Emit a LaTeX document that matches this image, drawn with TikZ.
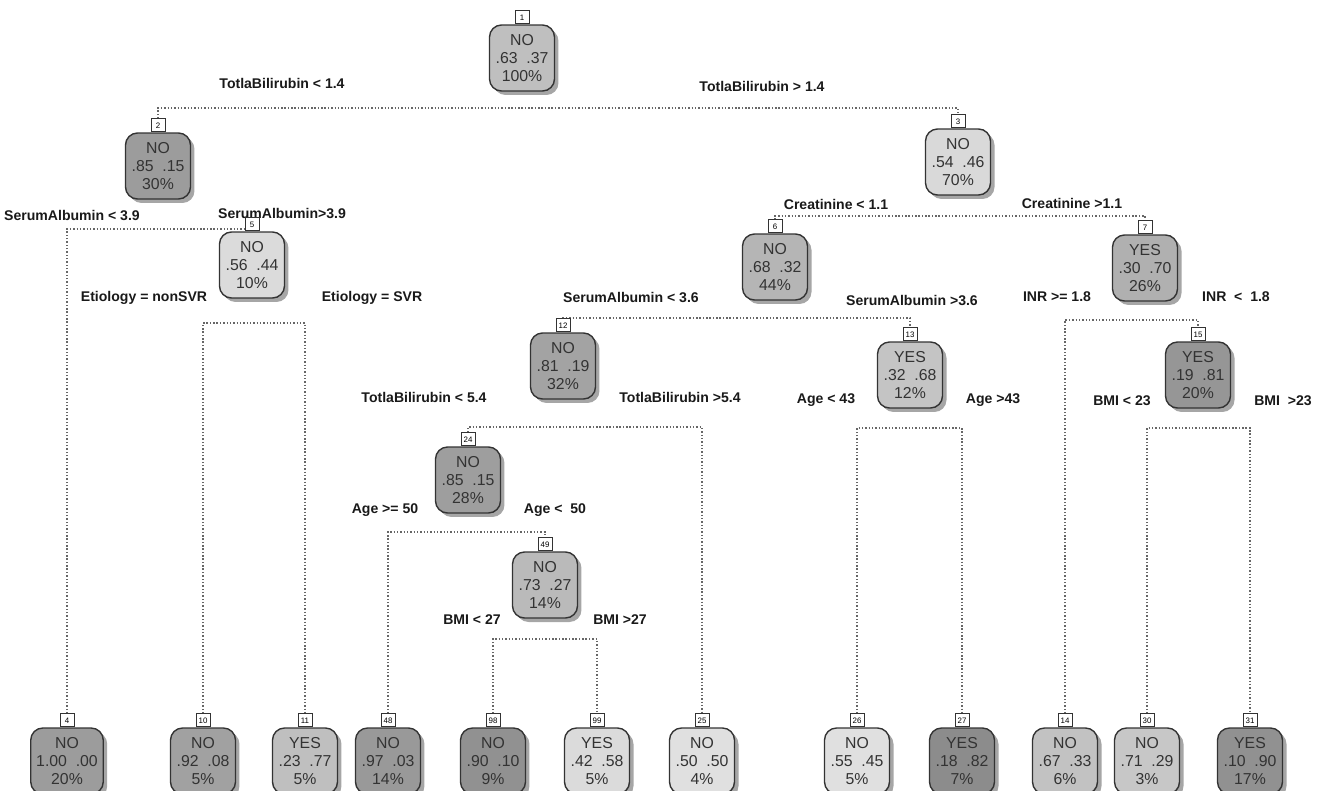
\documentclass[tikz,border=0pt]{standalone}
\usepackage{fontspec}
\setmainfont{Liberation Sans}
\usetikzlibrary{backgrounds, shadows}

\begin{document}
\begin{tikzpicture}[x=0.02cm, y=-0.02cm,
        nd/.style={draw=black!80, line width=0.8pt, rounded corners=0.24cm,
                   minimum width=1.3cm, minimum height=1.32cm, inner sep=1pt,
                   align=center, text=black!80,
                   font=\fontsize{9}{10.4}\selectfont,
                   drop shadow={shadow xshift=0.08cm, shadow yshift=-0.08cm,
                                fill=black, opacity=0.35}},
        tab/.style={draw=black!80, fill=white, line width=0.5pt,
                    minimum width=0.28cm, minimum height=0.26cm, inner sep=0pt,
                    anchor=south, font=\fontsize{4.5}{4.5}\selectfont},
        branch/.style={draw=black!60, line width=0.7pt,
                       dash pattern=on 0.8pt off 1.1pt},
        lbl/.style={font=\bfseries\fontsize{8}{9.5}\selectfont, text=black!90}
    ]
    \useasboundingbox (0,0) rectangle (1322,791);

    % --- root and first split ---
    \node[nd, fill=black!25] (n1) at (522, 58) {NO\\.63~~.37\\100\%};
    \node[nd, fill=black!39] (n2) at (158, 166) {NO\\.85~~.15\\30\%};
    \node[nd, fill=black!15] (n3) at (958, 162) {NO\\.54~~.46\\70\%};
    \node[lbl] (l1a) at (282, 83) {TotlaBilirubin < 1.4};
    \node[lbl] (l1b) at (762, 86) {TotlaBilirubin > 1.4};

    % --- left subtree ---
    \node[nd, fill=black!14] (n5) at (252, 265) {NO\\.56~~.44\\10\%};
    \node[lbl] (l2a) at (72, 215) {SerumAlbumin < 3.9};
    \node[lbl] (l2b) at (282, 213) {SerumAlbumin>3.9};
    \node[lbl] (l5a) at (144, 298) {Etiology = nonSVR};
    \node[lbl] (l5b) at (372, 298) {Etiology = SVR};

    % --- right subtree ---
    \node[nd, fill=black!29] (n6) at (775, 267) {NO\\.68~~.32\\44\%};
    \node[nd, fill=black!31] (n7) at (1145, 268) {YES\\.30~~.70\\26\%};
    \node[lbl] (l3a) at (836, 204) {Creatinine < 1.1};
    \node[lbl] (l3b) at (1072, 203) {Creatinine >1.1};

    \node[nd, fill=black!36] (n12) at (563, 366) {NO\\.81~~.19\\32\%};
    \node[nd, fill=black!23] (n13) at (910, 375) {YES\\.32~~.68\\12\%};
    \node[lbl] (l6a) at (631, 297) {SerumAlbumin < 3.6};
    \node[lbl] (l6b) at (912, 300) {SerumAlbumin >3.6};

    \node[nd, fill=black!41] (n15) at (1198, 375) {YES\\.19~~.81\\20\%};
    \node[lbl] (l7a) at (1057, 297) {INR >= 1.8};
    \node[lbl] (l7b) at (1236, 297) {INR ~<~ 1.8};

    \node[nd, fill=black!38] (n24) at (468, 480) {NO\\.85~~.15\\28\%};
    \node[lbl] (l12a) at (424, 397) {TotlaBilirubin < 5.4};
    \node[lbl] (l12b) at (680, 397) {TotlaBilirubin >5.4};

    \node[nd, fill=black!27] (n49) at (545, 585) {NO\\.73~~.27\\14\%};
    \node[lbl] (l24a) at (385, 510) {Age >= 50};
    \node[lbl] (l24b) at (555, 510) {Age <~~50};
    \node[lbl] (l49a) at (472, 620) {BMI < 27};
    \node[lbl] (l49b) at (620, 620) {BMI >27};

    \node[lbl] (l13a) at (826, 400) {Age < 43};
    \node[lbl] (l13b) at (993, 400) {Age >43};
    \node[lbl] (l15a) at (1122, 401) {BMI < 23};
    \node[lbl] (l15b) at (1283, 401) {BMI ~>23};

    % --- leaves ---
    \node[nd, fill=black!39, minimum width=1.45cm] (n4) at (67, 761) {NO\\1.00~~.00\\20\%};
    \node[nd, fill=black!37] (n10) at (203, 761) {NO\\.92~~.08\\5\%};
    \node[nd, fill=black!25] (n11) at (305, 761) {YES\\.23~~.77\\5\%};
    \node[nd, fill=black!40] (n48) at (388, 761) {NO\\.97~~.03\\14\%};
    \node[nd, fill=black!43] (n98) at (493, 761) {NO\\.90~~.10\\9\%};
    \node[nd, fill=black!14] (n99) at (597, 761) {YES\\.42~~.58\\5\%};
    \node[nd, fill=black!12] (n25) at (702, 761) {NO\\.50~~.50\\4\%};
    \node[nd, fill=black!12] (n26) at (857, 761) {NO\\.55~~.45\\5\%};
    \node[nd, fill=black!45] (n27) at (962, 761) {YES\\.18~~.82\\7\%};
    \node[nd, fill=black!24] (n14) at (1065, 761) {NO\\.67~~.33\\6\%};
    \node[nd, fill=black!22] (n30) at (1147, 761) {NO\\.71~~.29\\3\%};
    \node[nd, fill=black!43] (n31) at (1250, 761) {YES\\.10~~.90\\17\%};

    % --- number tabs ---
    \foreach \k in {1,2,3,4,5,6,7,10,11,12,13,14,15,24,25,26,27,30,31,48,49,98,99}
        \node[tab] (t\k) at (n\k.north) {\k};

    % --- split levels ---
    \coordinate (s1) at (0, 108);
    \coordinate (s2) at (0, 229);
    \coordinate (s3) at (0, 216);
    \coordinate (s5) at (0, 323);
    \coordinate (s6) at (0, 318);
    \coordinate (s7) at (0, 320);
    \coordinate (s12) at (0, 427);
    \coordinate (s13) at (0, 428);
    \coordinate (s15) at (0, 428);
    \coordinate (s24) at (0, 532);
    \coordinate (s49) at (0, 639);

    \begin{scope}[on background layer]
        \draw[branch] (t2.north) |- (t3.north |- s1) -- (t3.north);
        \draw[branch] (t4.north) |- (t5.north |- s2) -- (t5.north);
        \draw[branch] (t10.north) |- (t11.north |- s5) -- (t11.north);
        \draw[branch] (t6.north) |- (t7.north |- s3) -- (t7.north);
        \draw[branch] (t12.north) |- (t13.north |- s6) -- (t13.north);
        \draw[branch] (t14.north) |- (t15.north |- s7) -- (t15.north);
        \draw[branch] (t24.north) |- (t25.north |- s12) -- (t25.north);
        \draw[branch] (t26.north) |- (t27.north |- s13) -- (t27.north);
        \draw[branch] (t30.north) |- (t31.north |- s15) -- (t31.north);
        \draw[branch] (t48.north) |- (t49.north |- s24) -- (t49.north);
        \draw[branch] (t98.north) |- (t99.north |- s49) -- (t99.north);
    \end{scope}
\end{tikzpicture}
\end{document}
